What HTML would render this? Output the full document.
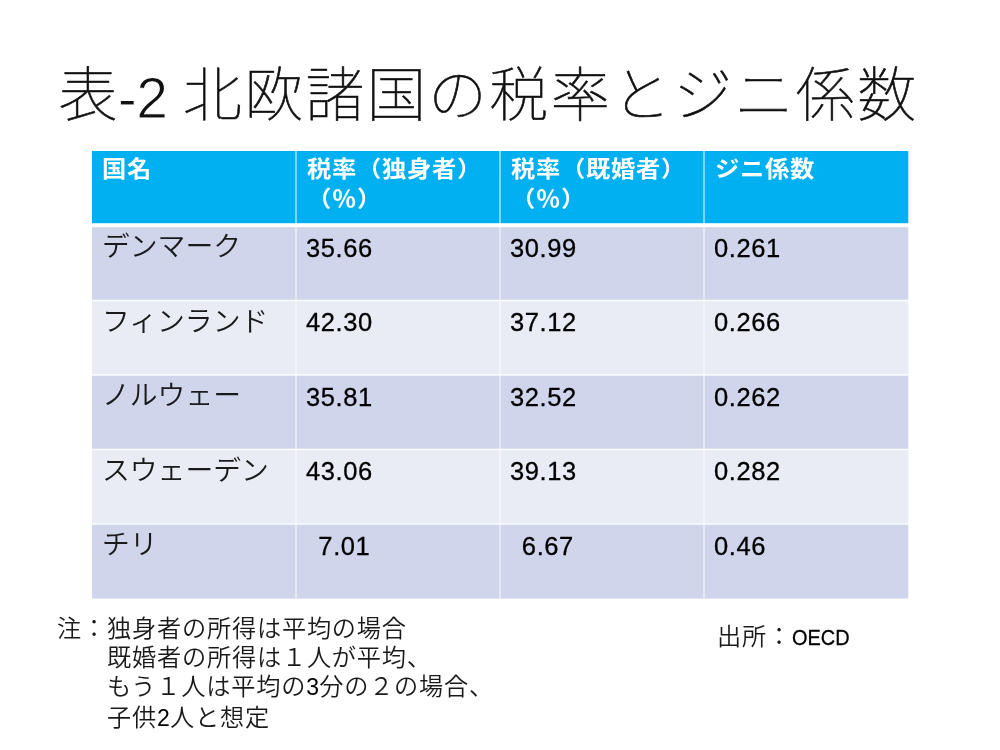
<!DOCTYPE html>
<html lang="ja">
<head>
<meta charset="utf-8">
<title>表-2 北欧諸国の税率とジニ係数</title>
<style>
html,body{margin:0;padding:0;background:#fff;}
body{width:1000px;height:750px;position:relative;overflow:hidden;
 font-family:"Liberation Sans","Noto Sans CJK JP",sans-serif;color:#000;}
.abs{position:absolute;white-space:nowrap;}
#title{left:58.5px;top:52px;font-size:59px;line-height:88px;font-weight:100;color:#111;letter-spacing:2.3px;-webkit-text-stroke:0.6px #111;}
#title .lat{font-weight:400;font-size:57px;letter-spacing:-0.5px;margin-left:-2px;-webkit-text-stroke:1px #fff;position:relative;top:2px;}
#tbl{position:absolute;left:0;top:0;}
.h{color:#fff;font-weight:700;font-size:24.3px;line-height:32.6px;letter-spacing:0.7px;transform:scaleY(0.92);transform-origin:0 0;}
.t{position:absolute;white-space:nowrap;}
.jp{font-size:27.8px;line-height:34px;font-weight:350;color:#1a1a1a;margin-left:1px;}
.num{font-size:25.5px;line-height:34px;color:#000;letter-spacing:0.6px;-webkit-text-stroke:0.3px #000;}
.note{font-size:24.2px;line-height:29.2px;font-weight:350;color:#1a1a1a;letter-spacing:0.8px;}
.note b{font-weight:400;font-size:23px;color:#000;letter-spacing:0.2px;}
.note b.oecd{display:inline-block;font-size:22.8px;letter-spacing:0;transform:scaleX(0.875);transform-origin:0 50%;-webkit-text-stroke:0.3px #000;}
</style>
</head>
<body>
<div id="title" class="abs">表<span class="lat">-2 </span>北欧諸国の税率とジニ係数</div>
<svg id="tblbg" width="1000" height="750" viewBox="0 0 1000 750" style="position:absolute;left:0;top:0">
 <rect x="92" y="151" width="816.3" height="72.2" fill="#00b0f0"/>
 <rect x="92" y="227.2" width="816.3" height="73.3" fill="#cfd5ea"/>
 <rect x="92" y="300.5" width="816.3" height="74.5" fill="#e9ebf5"/>
 <rect x="92" y="375.0" width="816.3" height="74.5" fill="#cfd5ea"/>
 <rect x="92" y="449.5" width="816.3" height="74.5" fill="#e9ebf5"/>
 <rect x="92" y="524.0" width="816.3" height="74.6" fill="#cfd5ea"/>
 <line x1="92" x2="908.3" y1="300.5" y2="300.5" stroke="#fff" stroke-width="1.3" stroke-opacity="0.9"/>
 <line x1="92" x2="908.3" y1="375.0" y2="375.0" stroke="#fff" stroke-width="1.3" stroke-opacity="0.9"/>
 <line x1="92" x2="908.3" y1="449.5" y2="449.5" stroke="#fff" stroke-width="1.3" stroke-opacity="0.9"/>
 <line x1="92" x2="908.3" y1="524.0" y2="524.0" stroke="#fff" stroke-width="1.3" stroke-opacity="0.9"/>
 <line x1="296" x2="296" y1="151" y2="598.6" stroke="#fff" stroke-width="1.3" stroke-opacity="0.75"/>
 <line x1="500" x2="500" y1="151" y2="598.6" stroke="#fff" stroke-width="1.3" stroke-opacity="0.75"/>
 <line x1="704" x2="704" y1="151" y2="598.6" stroke="#fff" stroke-width="1.3" stroke-opacity="0.75"/>
</svg>
<div id="tbl">
 <!-- header -->
 <div class="t h" style="left:102px;top:155.3px">国名</div>
 <div class="t h" style="left:307px;top:155.3px">税率（独身者）<br>（％）</div>
 <div class="t h" style="left:511px;top:155.3px">税率（既婚者）<br>（％）</div>
 <div class="t h" style="left:715px;top:155.3px">ジニ係数</div>
 <!-- row 1 -->
 <div class="t jp" style="left:101px;top:230px">デンマーク</div>
 <div class="t num" style="left:306px;top:231px">35.66</div>
 <div class="t num" style="left:510px;top:231px">30.99</div>
 <div class="t num" style="left:714px;top:231px">0.261</div>
 <!-- row 2 -->
 <div class="t jp" style="left:101px;top:305px">フィンランド</div>
 <div class="t num" style="left:306px;top:305px">42.30</div>
 <div class="t num" style="left:510px;top:305px">37.12</div>
 <div class="t num" style="left:714px;top:305px">0.266</div>
 <!-- row 3 -->
 <div class="t jp" style="left:101px;top:379px">ノルウェー</div>
 <div class="t num" style="left:306px;top:380px">35.81</div>
 <div class="t num" style="left:510px;top:380px">32.52</div>
 <div class="t num" style="left:714px;top:380px">0.262</div>
 <!-- row 4 -->
 <div class="t jp" style="left:101px;top:454px">スウェーデン</div>
 <div class="t num" style="left:306px;top:454px">43.06</div>
 <div class="t num" style="left:510px;top:454px">39.13</div>
 <div class="t num" style="left:714px;top:454px">0.282</div>
 <!-- row 5 -->
 <div class="t jp" style="left:101px;top:528px">チリ</div>
 <div class="t num" style="left:303px;top:529px">&nbsp;&nbsp;7.01</div>
 <div class="t num" style="left:506.5px;top:529px">&nbsp;&nbsp;6.67</div>
 <div class="t num" style="left:714px;top:529px">0.46</div>
</div>
<div class="abs note" style="left:57px;top:614px">注：独身者の所得は平均の場合<br>　　既婚者の所得は１人が平均、<br>　　もう１人は平均の<b>3</b>分の２の場合、<br>　　子供<b>2</b>人と想定</div>
<div class="abs note" style="left:717px;top:622px">出所：<b class="oecd">OECD</b></div>
</body>
</html>
